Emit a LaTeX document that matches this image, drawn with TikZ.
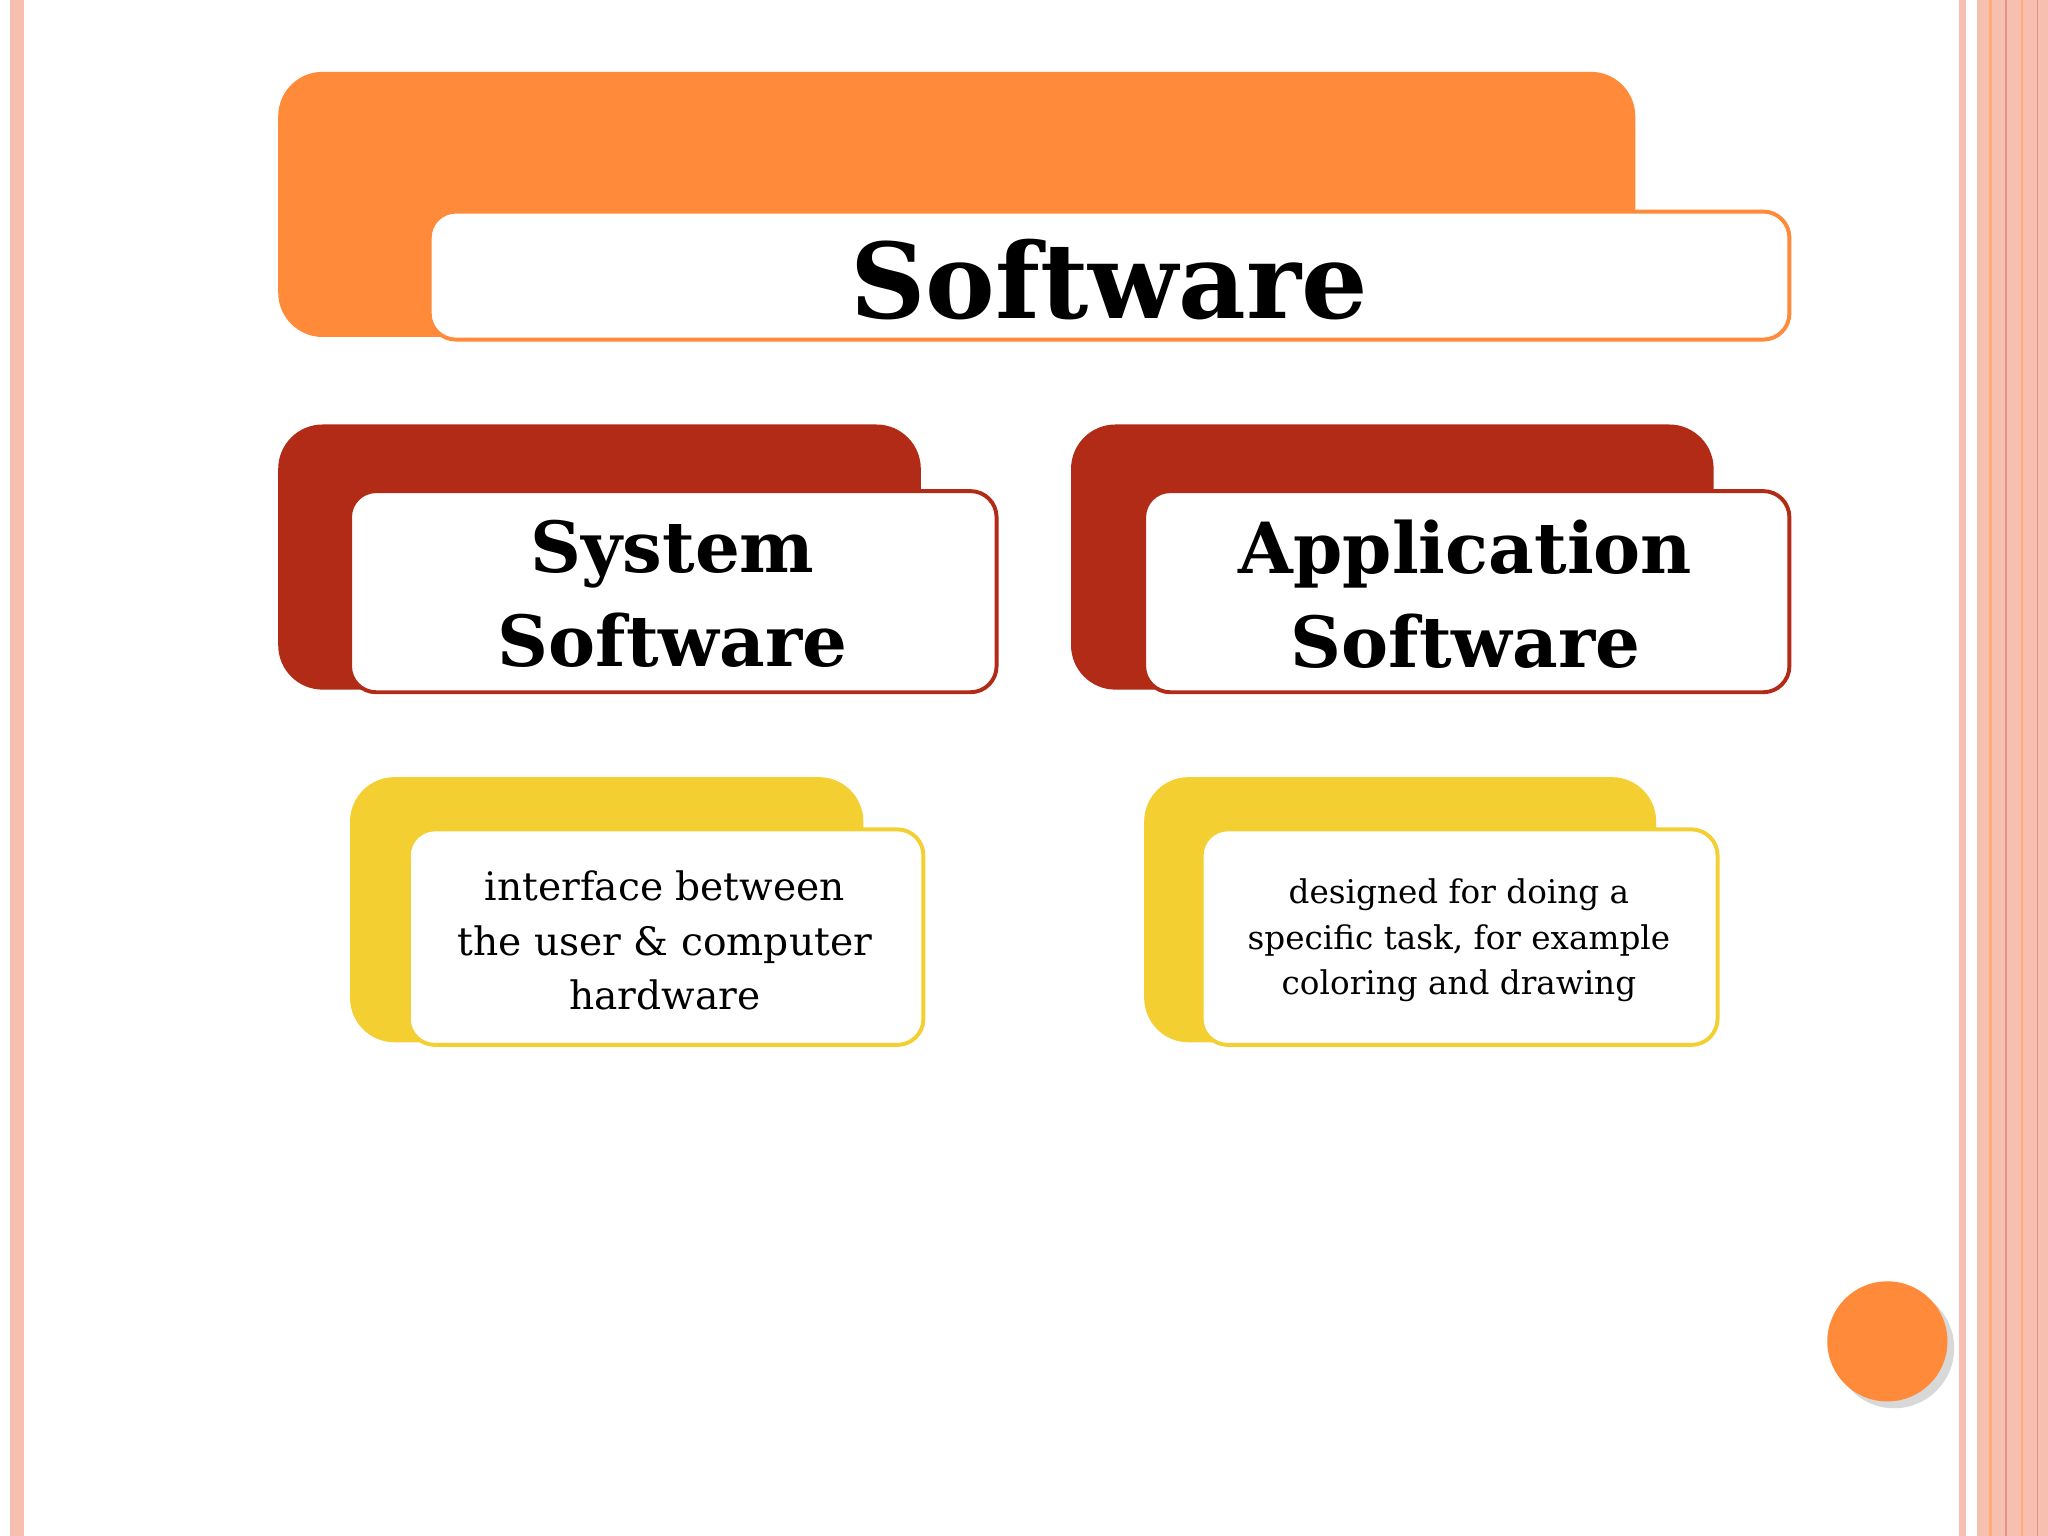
\documentclass[tikz,border=0pt]{standalone}
\usepackage{fontspec}
\setmainfont{DejaVu Serif}
\usetikzlibrary{shadows}
\definecolor{org}{HTML}{FF8A3A}
\definecolor{red}{HTML}{B22B17}
\definecolor{yel}{HTML}{F4CF32}
\definecolor{pnk}{HTML}{F6BFB0}
\begin{document}
\begin{tikzpicture}[x=0.5pt,y=-0.5pt,
 back/.style={rounded corners=17pt},
 front/.style={fill=white,line width=1.5pt,rounded corners=10pt},
 txt/.style={align=center,inner sep=0pt}]
\useasboundingbox (0,0) rectangle (1568,1176);
\fill[white] (0,0) rectangle (1568,1176);
\fill[pnk] (8,0) rectangle (18,1176);
\fill[pnk] (1500,0) rectangle (1505,1176);
\fill[pnk] (1514,0) rectangle (1568,1176);
\draw[org!70,line width=1pt] (1524,0)--(1524,1176) (1548,0)--(1548,1176);
\draw[pnk!70!red,line width=0.6pt] (1536,0)--(1536,1176) (1560,0)--(1560,1176);
% top
\fill[org,back] (213,55) rectangle (1252,258);
\draw[front,draw=org] (329,162) rectangle (1370,260);
\node[txt,font=\bfseries\fontsize{40}{44}\selectfont] (sw) at (849,214) {Software};
% red
\fill[red,back] (213,325) rectangle (705,528);
\draw[front,draw=red] (268,376) rectangle (763,530);
\node[txt,font=\bfseries\fontsize{27}{36}\selectfont] (sys) at (515,455) {System\\Software};
\fill[red,back] (820,325) rectangle (1312,528);
\draw[front,draw=red] (876,376) rectangle (1370,530);
\node[txt,font=\bfseries\fontsize{27}{36}\selectfont] (app) at (1122,455) {Application\\Software};
% yellow
\fill[yel,back] (268,595) rectangle (661,798);
\draw[front,draw=yel] (313,635) rectangle (707,800);
\node[txt,font=\fontsize{15}{21}\selectfont] (d1) at (509,720) {interface between\\the user \& computer\\hardware};
\fill[yel,back] (876,595) rectangle (1268,798);
\draw[front,draw=yel] (920,635) rectangle (1315,800);
\node[txt,font=\fontsize{12.5}{17.5}\selectfont] (d2) at (1117,720) {designed for doing a\\specific task, for example\\coloring and drawing};
\node[circle,fill=org,minimum size=46pt,drop shadow={opacity=0.3}] (c) at (1445,1027) {};
\end{tikzpicture}
\end{document}
